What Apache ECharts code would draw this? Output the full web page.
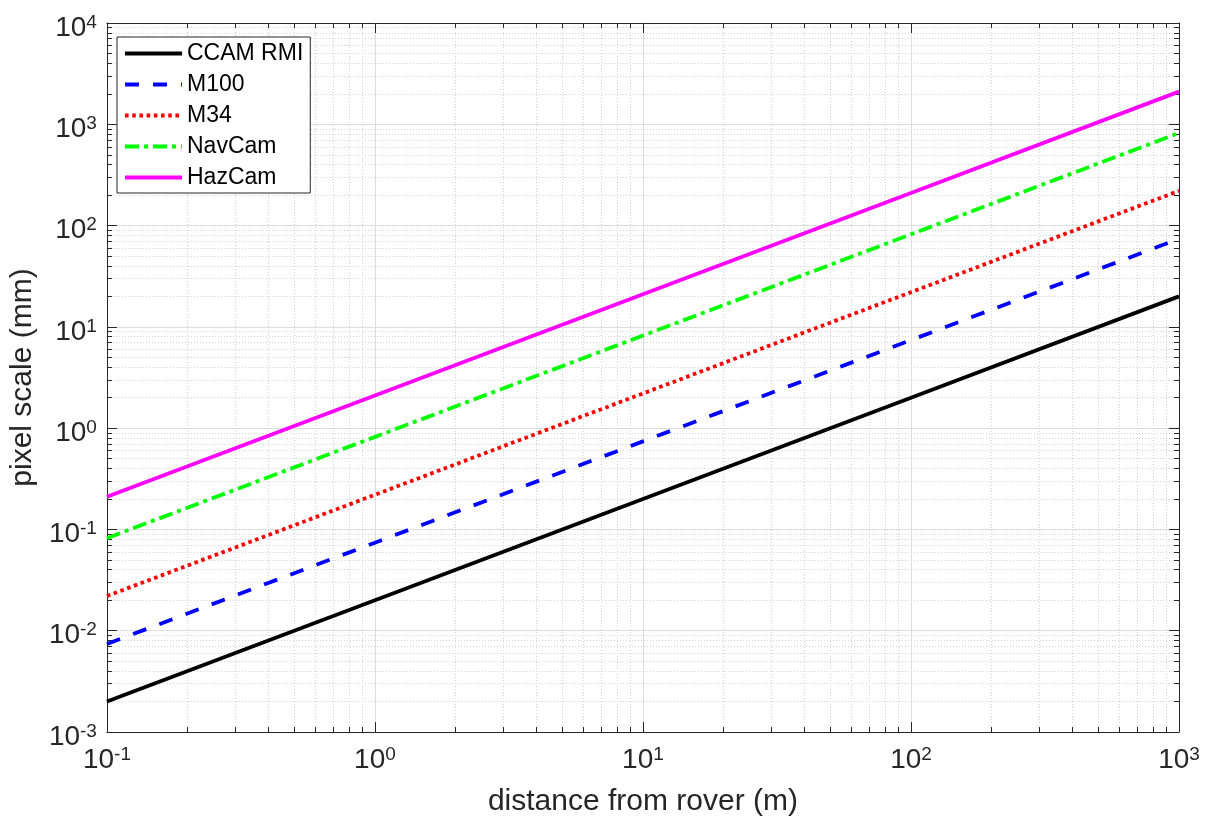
<!DOCTYPE html>
<html>
<head>
<meta charset="utf-8">
<script src="https://cdn.jsdelivr.net/npm/echarts@6/dist/echarts.min.js"></script>
<style>html,body{margin:0;padding:0;background:#fff}#c{width:1206px;height:822px}</style>
</head>
<body>
<div id="c"></div>
<script>
// distance from rover (m)
const distances = [0.1, 1, 10, 100, 1000];
// pixel scale (mm)
const ccamRMI = [0.002, 0.02, 0.2, 2, 20];
const m100    = [0.0074, 0.074, 0.74, 7.4, 74];
const m34     = [0.022, 0.22, 2.2, 22, 220];
const navCam  = [0.082, 0.82, 8.2, 82, 820];
const hazCam  = [0.21, 2.1, 21, 210, 2100];
const seriesNames = ['CCAM RMI', 'M100', 'M34', 'NavCam', 'HazCam'];
// tick exponents (labels 10^e)
const xExponents = [-1, 0, 1, 2, 3];
const yExponents = [-3, -2, -1, 0, 1, 2, 3, 4];

const FONT = 'Liberation Sans, Arial, Helvetica, sans-serif';
const AX = '#262626';

function minorValues(exps) {
  const out = [];
  for (let i = 0; i < exps.length - 1; i++) {
    for (let m = 2; m <= 9; m++) out.push(+(m * Math.pow(10, exps[i])).toPrecision(4));
  }
  return out;
}
const xMinor = minorValues(xExponents);
const yMinor = minorValues(yExponents);

const rich = {
  b: { fontSize: 28, lineHeight: 28, padding: [10, 0, 0, 0], color: AX, fontFamily: FONT },
  s: { fontSize: 19, lineHeight: 19, padding: [4, 0, 0, 0], verticalAlign: 'top', color: AX, fontFamily: FONT }
};
function expLabel(v) {
  const e = Math.round(Math.log10(v));
  return '{b|10}{s|' + e + '}';
}

const xMin = Math.pow(10, xExponents[0]), xMax = Math.pow(10, xExponents[xExponents.length - 1]);
const yMin = Math.pow(10, yExponents[0]), yMax = Math.pow(10, yExponents[yExponents.length - 1]);

function baseAxis(extra) {
  return Object.assign({
    type: 'log', logBase: 10, gridIndex: 0,
    axisLine: { show: true, lineStyle: { color: AX, width: 1 } },
    axisTick: { show: true, inside: true, length: 10, lineStyle: { color: AX, width: 1 } },
    axisLabel: { show: false },
    splitLine: { show: false },
    minorTick: { show: false },
    z: 3
  }, extra);
}

const xAxes = [
  baseAxis({ min: xMin, max: xMax, position: 'bottom',
    name: 'distance from rover (m)', nameLocation: 'middle', nameGap: 55,
    nameTextStyle: { fontSize: 30, color: AX, fontFamily: FONT },
    axisLabel: { show: true, margin: 9, formatter: expLabel, rich: rich },
    splitLine: { show: true, lineStyle: { color: '#dedede', width: 1, type: 'solid' } } }),
  baseAxis({ min: xMin, max: xMax, position: 'top' }),
  baseAxis({ min: xMin, max: xMax, position: 'bottom', axisLine: { show: false },
    axisTick: { show: true, inside: true, length: 5, customValues: xMinor, lineStyle: { color: AX, width: 1 } },
    splitLine: { show: true, lineStyle: { color: '#d4d4d4', width: 1, type: [1, 2] } } }),
  baseAxis({ min: xMin, max: xMax, position: 'top', axisLine: { show: false },
    axisTick: { show: true, inside: true, length: 5, customValues: xMinor, lineStyle: { color: AX, width: 1 } } })
];
const yAxes = [
  baseAxis({ min: yMin, max: yMax, position: 'left',
    name: 'pixel scale (mm)', nameLocation: 'middle', nameGap: 58,
    nameTextStyle: { fontSize: 30, color: AX, fontFamily: FONT },
    axisLabel: { show: true, margin: 10, formatter: expLabel, rich: rich },
    splitLine: { show: true, lineStyle: { color: '#dedede', width: 1, type: 'solid' } } }),
  baseAxis({ min: yMin, max: yMax, position: 'right' }),
  baseAxis({ min: yMin, max: yMax, position: 'left', axisLine: { show: false },
    axisTick: { show: true, inside: true, length: 5, customValues: yMinor, lineStyle: { color: AX, width: 1 } },
    splitLine: { show: true, lineStyle: { color: '#d4d4d4', width: 1, type: [1, 2] } } }),
  baseAxis({ min: yMin, max: yMax, position: 'right', axisLine: { show: false },
    axisTick: { show: true, inside: true, length: 5, customValues: yMinor, lineStyle: { color: AX, width: 1 } } })
];

function pairs(vals) { return distances.map((d, i) => [d, vals[i]]); }
function lineSeries(name, vals, color, type, width) {
  return {
    name: name, type: 'line', xAxisIndex: 0, yAxisIndex: 0,
    data: pairs(vals), symbol: 'none', showSymbol: false,
    lineStyle: { color: color, width: width, type: type, cap: 'butt' },
    itemStyle: { color: color },
    emphasis: { disabled: true }, z: 5
  };
}

const option = {
  backgroundColor: '#ffffff',
  animation: false,
  textStyle: { fontFamily: FONT },
  grid: { left: 102, right: 27, top: 23, bottom: 89, containLabel: false },
  xAxis: xAxes,
  yAxis: yAxes,
  legend: {
    orient: 'vertical', left: 117, top: 37,
    itemWidth: 57, itemHeight: 14, itemGap: 8,
    padding: [5, 7, 4, 6],
    backgroundColor: '#ffffff', borderColor: AX, borderWidth: 1,
    selectedMode: false,
    itemStyle: { opacity: 0, borderWidth: 0 },
    lineStyle: { width: 4 },
    textStyle: { fontSize: 23, color: '#000', fontFamily: FONT, lineHeight: 23 },
    data: seriesNames
  },
  series: [
    lineSeries(seriesNames[0], ccamRMI, '#000000', 'solid', 3.8),
    lineSeries(seriesNames[1], m100, '#0000ff', [14, 14], 3.8),
    lineSeries(seriesNames[2], m34, '#ff0000', [3.6, 3.6], 3.8),
    lineSeries(seriesNames[3], navCam, '#00ff00', [14, 5, 4, 5], 3.8),
    lineSeries(seriesNames[4], hazCam, '#ff00ff', 'solid', 3.8)
  ]
};

const chart = echarts.init(document.getElementById('c'), null, { renderer: 'canvas' });
chart.setOption(option);
</script>
</body>
</html>
